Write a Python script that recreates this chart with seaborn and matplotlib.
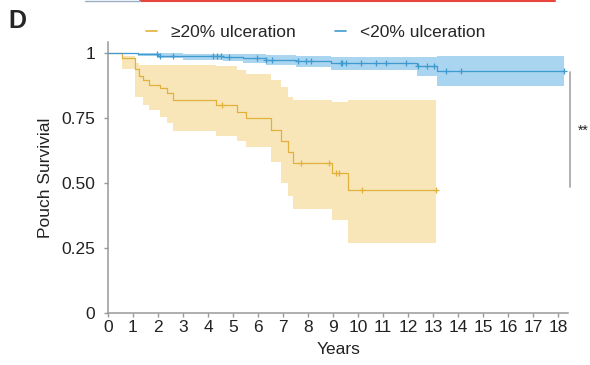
import numpy as np
import pandas as pd
import seaborn as sns
import matplotlib.pyplot as plt
from matplotlib.lines import Line2D

# >=20% ulceration group (step curve + 95% CI)
hi_t = [0, 0.55, 1.08, 1.25, 1.4, 1.65, 2.1, 2.35, 2.6, 4.3, 5.15, 5.5, 6.5, 6.9, 7.2, 7.4, 8.95, 9.6, 13.1]
hi_s = [1.0, 0.98, 0.94, 0.91, 0.895, 0.876, 0.865, 0.846, 0.82, 0.80, 0.775, 0.75, 0.705, 0.66, 0.62, 0.577, 0.54, 0.473, 0.473]
hi_up = [1.0, 0.99, 0.96, 0.955, 0.955, 0.954, 0.954, 0.954, 0.954, 0.95, 0.935, 0.92, 0.896, 0.87, 0.83, 0.82, 0.81, 0.82, 0.82]
hi_lo = [1.0, 0.94, 0.83, 0.83, 0.80, 0.78, 0.755, 0.73, 0.70, 0.68, 0.66, 0.64, 0.58, 0.50, 0.45, 0.40, 0.358, 0.27, 0.27]
hi_cens = [4.55, 7.7, 8.85, 9.1, 9.25, 10.15, 13.1]

# <20% ulceration group
lo_t = [0, 1.2, 2.0, 3.0, 4.6, 5.4, 6.3, 7.5, 8.9, 12.35, 13.15, 18.25]
lo_s = [1.0, 0.995, 0.99, 0.988, 0.985, 0.98, 0.975, 0.97, 0.96, 0.95, 0.93, 0.93]
lo_up = [1.0, 1.0, 1.0, 0.998, 0.997, 0.995, 0.993, 0.99, 0.985, 0.985, 0.99, 0.99]
lo_lo = [1.0, 0.99, 0.98, 0.975, 0.97, 0.962, 0.955, 0.946, 0.935, 0.91, 0.873, 0.873]
lo_cens = [1.95, 2.08, 2.6, 4.2, 4.35, 4.5, 4.85, 5.95, 6.3, 6.55, 7.6, 7.9, 8.1, 9.3, 9.35,
           9.5, 10.1, 10.7, 11.1, 11.9, 12.4, 12.75, 13.05, 13.5, 14.1, 18.25]

groups = ["≥20% ulceration", "<20% ulceration"]
line_colors = ["#E2B13C", "#3F9AD0"]
band_colors = ["#F8E6B8", "#A9D5F0"]

sns.set_style("ticks")
plt.rcParams['font.family'] = ['Liberation Sans', 'DejaVu Sans']

fig = plt.figure(figsize=(5.9, 3.65), dpi=100)
ax = fig.add_axes([0.183, 0.1425, 0.78, 0.742])

curves = [(hi_t, hi_s, hi_up, hi_lo, hi_cens), (lo_t, lo_s, lo_up, lo_lo, lo_cens)]
for name, lc, bc, (t, s, up, lo, cens) in zip(groups, line_colors, band_colors, curves):
    ax.fill_between(t, lo, up, step="post", color=bc, lw=0, zorder=1)
    df = pd.DataFrame({"Years": t, "Survival": s})
    sns.lineplot(data=df, x="Years", y="Survival", ax=ax, color=lc, lw=0.9,
                 drawstyle="steps-post", zorder=3)
    idx = np.searchsorted(t, cens, side="right") - 1
    cdf = pd.DataFrame({"Years": cens, "Survival": np.array(s)[idx]})
    sns.scatterplot(data=cdf, x="Years", y="Survival", ax=ax, marker="+", s=14,
                    color=lc, linewidth=0.9, zorder=4)

ax.set_xlim(0, 18.4)
ax.set_ylim(0, 1.042)
ax.set_xticks(range(0, 19))
ax.set_yticks([0, 0.25, 0.5, 0.75, 1])
ax.set_yticklabels(["0", "0.25", "0.50", "0.75", "1"])
ax.set_xlabel("Years", fontsize=12.5, color="#222", labelpad=5)
ax.set_ylabel("Pouch Survivial", fontsize=12.5, color="#222", labelpad=6)
ax.tick_params(labelsize=12.5, colors="#999", labelcolor="#222", length=3, width=1)
ax.tick_params(axis="y", pad=6)
ax.tick_params(axis="x", pad=2)
sns.despine(ax=ax)
for sp in ["left", "bottom"]:
    ax.spines[sp].set_color("#999")
    ax.spines[sp].set_linewidth(1.1)

# significance bracket
ax.plot([18.48, 18.48], [0.485, 0.927], color="#aaa", lw=1.3, clip_on=False)
fig.text(0.997, 1 - 131 / 365, "**", fontsize=10, color="#222", ha="right", va="center")

handles = [Line2D([], [], color=c, lw=1.2) for c in line_colors]
fig.legend(handles, groups, loc="center", bbox_to_anchor=(0.535, 0.912), ncol=2,
           frameon=False, fontsize=12.5, handlelength=0.6, handletextpad=0.8,
           columnspacing=2.3)

fig.text(0.015, 0.975, "D", fontsize=18, fontweight="bold", va="top")
# edge of the panel above
fig.add_artist(Line2D([140 / 590, 555 / 590], [0.997, 0.997], color="#E8453C", lw=1.5))
fig.add_artist(Line2D([85 / 590, 140 / 590], [0.997, 0.997], color="#9AB0C8", lw=1.0))

fig.savefig("out.png", dpi=100)
